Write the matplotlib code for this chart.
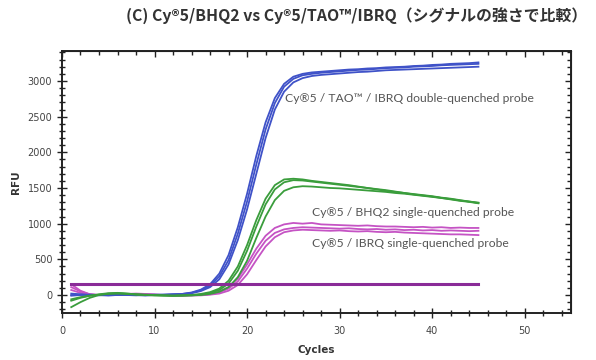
import matplotlib
matplotlib.use("Agg")
import matplotlib.pyplot as plt
from matplotlib.ticker import MultipleLocator

cycles = list(range(1, 46))

blue1 = [-10, 0, 5, 0, -5, 0, 5, 0, -5, 0, 5, 10, 15, 35, 75, 150, 300, 560, 950, 1420,
         1950, 2420, 2760, 2960, 3060, 3100, 3120, 3130, 3140, 3150, 3160, 3165, 3175, 3180, 3190,
         3195, 3200, 3210, 3215, 3225, 3230, 3240, 3245, 3250, 3260]
blue2 = [0, 5, 0, -5, 0, 5, 0, -5, 0, 5, 5, 10, 15, 30, 65, 130, 260, 490, 860, 1310,
         1830, 2320, 2690, 2920, 3030, 3080, 3100, 3115, 3125, 3135, 3145, 3155, 3160, 3170, 3180,
         3185, 3190, 3200, 3205, 3210, 3220, 3225, 3230, 3235, 3240]
blue3 = [20, 10, 0, 0, -5, 0, 5, 0, -5, 0, 0, 5, 10, 25, 55, 110, 220, 430, 770, 1200,
         1700, 2200, 2600, 2850, 2980, 3040, 3070, 3085, 3095, 3105, 3115, 3125, 3130, 3140, 3150,
         3155, 3160, 3165, 3170, 3175, 3180, 3185, 3190, 3195, 3200]

green1 = [-80, -40, -10, 10, 25, 30, 20, 10, 0, -5, -10, -10, -5, 0, 15, 40, 90, 200, 400, 700,
          1050, 1350, 1540, 1620, 1630, 1620, 1600, 1585, 1570, 1555, 1540, 1520, 1500, 1485, 1470,
          1450, 1430, 1415, 1400, 1385, 1365, 1350, 1330, 1310, 1290]
green2 = [-170, -100, -40, 0, 20, 25, 20, 10, 5, 0, -5, -10, -10, -5, 5, 30, 70, 160, 340, 620,
          960, 1270, 1480, 1580, 1610, 1605, 1590, 1575, 1560, 1545, 1530, 1515, 1500, 1480, 1460,
          1445, 1430, 1410, 1395, 1380, 1360, 1340, 1320, 1305, 1285]
green3 = [-60, -30, -10, 5, 15, 20, 15, 5, 0, -5, -5, -10, -5, -5, 0, 15, 45, 110, 250, 480,
          800, 1100, 1330, 1460, 1510, 1525, 1520, 1510, 1500, 1495, 1485, 1475, 1465, 1455, 1445,
          1430, 1420, 1405, 1390, 1375, 1360, 1345, 1325, 1310, 1295]

pink1 = [150, 60, 10, 0, 5, 10, 15, 20, 15, 5, 0, -5, -5, 0, 5, 20, 50, 110, 230, 430,
         650, 830, 940, 990, 1010, 1000, 1010, 990, 985, 980, 975, 970, 975, 965, 960,
         960, 955, 950, 955, 945, 950, 940, 945, 940, 940]
pink2 = [110, 50, 10, 0, 0, 5, 10, 15, 10, 5, 0, -5, -10, -5, 0, 10, 35, 90, 190, 370,
         580, 760, 870, 920, 940, 950, 945, 940, 935, 930, 935, 925, 920, 925, 915,
         920, 910, 915, 905, 910, 900, 905, 900, 895, 900]
pink3 = [70, 30, 5, 0, 0, 5, 5, 10, 10, 5, 0, -5, -5, -5, -5, 5, 20, 60, 140, 290,
         490, 680, 810, 880, 905, 915, 910, 905, 900, 905, 895, 890, 895, 885, 880,
         885, 875, 870, 865, 860, 855, 850, 850, 845, 840]

threshold = 150
threshold_range = [1, 45]

labels = ["Cy®5 / TAO™ / IBRQ double-quenched probe",
          "Cy®5 / BHQ2 single-quenched probe",
          "Cy®5 / IBRQ single-quenched probe"]
label_pos = [(24.1, 2760), (27.0, 1150), (27.0, 715)]

title = "(C) Cy®5/BHQ2 vs Cy®5/TAO™/IBRQ（シグナルの強さで比較）"

fig = plt.figure(figsize=(5.96, 3.6), dpi=100)
ax = fig.add_axes([0.104, 0.1306, 0.854, 0.7277])

c_blue = "#3f52c8"
c_green = "#3a9d3c"
c_pink = "#c553c4"
c_thr = "#8a2c98"

for s in (blue1, blue2, blue3):
    ax.plot(cycles, s, color=c_blue, lw=1.3, zorder=3)
for s in (green1, green2, green3):
    ax.plot(cycles, s, color=c_green, lw=1.3, zorder=3)
for s in (pink1, pink2, pink3):
    ax.plot(cycles, s, color=c_pink, lw=1.3, zorder=2)
ax.plot(threshold_range, [threshold, threshold], color=c_thr, lw=2.2, zorder=4)

for txt, (x, y) in zip(labels, label_pos):
    ax.text(x, y, txt, fontsize=8.7, family="Lato", color="#555555", va="center", ha="left")

ax.set_xlim(0, 55)
ax.set_ylim(-252, 3420)
ax.xaxis.set_major_locator(MultipleLocator(10))
ax.xaxis.set_minor_locator(MultipleLocator(2))
ax.yaxis.set_major_locator(MultipleLocator(500))
ax.yaxis.set_minor_locator(MultipleLocator(100))
ax.tick_params(which="both", direction="inout", colors="#222222", labelcolor="#444444",
               labelsize=7, width=1.0)
ax.tick_params(which="major", length=7)
ax.tick_params(which="minor", length=4)
ax.tick_params(axis="x", pad=6)
for sp in ax.spines.values():
    sp.set_linewidth(1.4)
    sp.set_color("#222222")

# inward ticks on top and right
secx = ax.secondary_xaxis("top")
secx.xaxis.set_major_locator(MultipleLocator(10))
secx.xaxis.set_minor_locator(MultipleLocator(2))
secx.tick_params(which="both", direction="in", labeltop=False, colors="#222222", width=1.0)
secx.tick_params(which="major", length=4)
secx.tick_params(which="minor", length=3)
secy = ax.secondary_yaxis("right")
secy.yaxis.set_major_locator(MultipleLocator(500))
secy.yaxis.set_minor_locator(MultipleLocator(100))
secy.tick_params(which="both", direction="in", labelright=False, colors="#222222", width=1.0)
secy.tick_params(which="major", length=4)
secy.tick_params(which="minor", length=3)

ax.set_xlabel("Cycles", fontsize=7.5, fontweight="bold", color="#333333", labelpad=6)
ax.set_ylabel("RFU", fontsize=7.5, fontweight="bold", color="#333333", labelpad=5)

fig.text(0.598, 0.953, title, ha="center", va="center", fontsize=11.4,
         family=["Noto Sans CJK JP", "DejaVu Sans"], color="#333333", fontweight="bold")

fig.savefig("out.png", dpi=100)
